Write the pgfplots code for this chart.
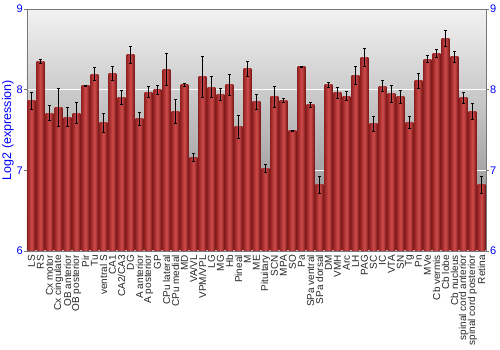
\documentclass[border=0pt]{standalone}
\usepackage{fontspec}
\setmainfont{Liberation Sans}
\usepackage{pgfplots}
\usepackage{pgfplotstable}
\pgfplotsset{compat=1.18}
\definecolor{bgtop}{RGB}{242,242,242}
\definecolor{bgbot}{RGB}{128,128,128}
\definecolor{barL}{RGB}{150,36,36}
\definecolor{barM}{RGB}{208,76,76}
\definecolor{barR}{RGB}{120,22,22}
\definecolor{axgray}{RGB}{120,120,120}
\definecolor{lblue}{RGB}{0,0,255}
\pgfplotstableread{
x y e
1 7.86 0.10
2 8.35 0.025
3 7.71 0.09
4 7.78 0.24
5 7.66 0.12
6 7.71 0.13
7 8.05 0.005
8 8.19 0.08
9 7.59 0.12
10 8.20 0.085
11 7.905 0.087
12 8.43 0.105
13 7.64 0.08
14 7.97 0.07
15 8.00 0.055
16 8.25 0.20
17 7.73 0.15
18 8.06 0.015
19 7.165 0.05
20 8.16 0.25
21 8.03 0.13
22 7.94 0.075
23 8.06 0.13
24 7.54 0.14
25 8.26 0.09
26 7.85 0.09
27 7.02 0.05
28 7.91 0.13
29 7.87 0.025
30 7.49 0.008
31 8.285 0.005
32 7.81 0.03
33 6.82 0.11
34 8.06 0.03
35 7.96 0.065
36 7.92 0.055
37 8.18 0.11
38 8.40 0.11
39 7.575 0.09
40 8.045 0.07
41 7.95 0.105
42 7.91 0.075
43 7.595 0.075
44 8.11 0.09
45 8.38 0.04
46 8.45 0.055
47 8.64 0.10
48 8.41 0.07
49 7.90 0.07
50 7.73 0.10
51 6.82 0.10
}\datatable
\begin{document}
\begin{tikzpicture}
\useasboundingbox (-27pt,-99pt) rectangle (473pt,251pt);
\begin{axis}[
  at={(0,0)}, anchor=south west,
  scale only axis, width=459pt, height=242pt,
  xmin=0.5, xmax=51.5, ymin=6, ymax=9,
  ybar, bar width=0.88,
  axis background/.style={top color=bgtop, bottom color=bgbot},
  axis line style={axgray, line width=0.8pt},
  xtick={1,...,51},
  xticklabels={LS,RS,Cx motor,Cx cingulate,OB anterior,OB posterior,Pir,Tu,ventral S,CA1,CA2/CA3,DG,A anterior,A posterior,GP,CPu lateral,CPu medial,MD,VA/VL,VPM/VPL,LG,MG,Hb,Pineal,M,ME,Pituitary,SCN,MPA,SO,Pa,SPa ventral,SPa dorsal,DM,VMH,Arc,LH,PAG,SC,IC,VTA,SN,Tg,Pn,MVe,Cb vermis,Cb lobe,Cb nucleus,spinal cord anterior,spinal cord posterior,Retina},
  x tick style={draw=none},
  xticklabel style={rotate=90, anchor=east, inner sep=1pt, font=\fontsize{10}{10}\selectfont, text=black!85},
  ytick={6,7,8,9},
  ytick pos=left,
  y tick style={axgray, line width=0.8pt},
  tick align=outside, major tick length=3pt,
  yticklabel style={text=lblue, font=\fontsize{11}{11}\selectfont, inner sep=1pt},
  /pgf/number format/assume math mode=true,
  ymajorgrids, grid style={white, line width=1pt},
  ylabel={Log2 (expression)},
  every axis y label/.style={at={(axis description cs:-0.0414,0.5)}, rotate=90, anchor=center, text=lblue, font=\fontsize{12.5}{12.5}\selectfont},
]
\pgfplotsinvokeforeach{1,...,51}{
\addplot[draw=none, bar shift=0, left color=barL, right color=barR, middle color=barM,
  restrict x to domain=#1:#1,
  error bars/.cd, y dir=both, y explicit,
  error bar style={black, line width=0.8pt},
  error mark options={rotate=90, mark size=1.6pt, line width=0.8pt, black}]
  table[x=x, y=y, y error=e] {\datatable};
}
\end{axis}
\begin{axis}[
  at={(0,0)}, anchor=south west,
  scale only axis, width=459pt, height=242pt,
  xmin=0.5, xmax=51.5, ymin=6, ymax=9,
  axis x line=none, axis y line*=right,
  axis line style={axgray, line width=0.8pt},
  ytick={6,7,8,9},
  y tick style={axgray, line width=0.8pt},
  tick align=outside, major tick length=3pt,
  yticklabel style={text=lblue, font=\fontsize{11}{11}\selectfont, inner sep=1pt},
  /pgf/number format/assume math mode=true,
]
\addplot[draw=none] coordinates {(1,6)};
\end{axis}
\end{tikzpicture}
\end{document}
